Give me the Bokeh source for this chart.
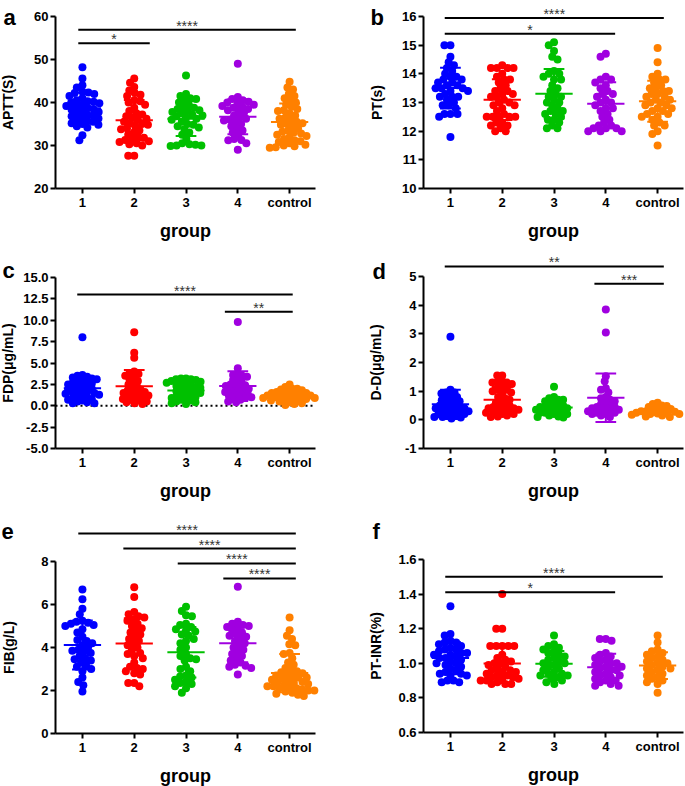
import math
import numpy as np
from bokeh.plotting import figure
from bokeh.layouts import column, row
from bokeh.models import FixedTicker, Range1d, NumeralTickFormatter
from bokeh.embed import file_html
from bokeh.resources import INLINE
from bokeh.core.properties import value

groups = ["1", "2", "3", "4", "control"]
colors = ["#0000FF", "#FF0000", "#00C000", "#A000E0", "#FF8000"]

# ---------------- data ----------------
aptt_1 = [48.2, 45.6, 44.0, 43.5, 42.5, 42.3, 42.2, 42.0, 41.5, 41.0, 40.5, 40.3, 40.2, 40.0, 39.8, 39.5, 39.2, 39.0, 38.8, 38.5,
          38.3, 38.0, 37.8, 37.5, 37.2, 37.0, 36.8, 36.5, 36.3, 36.0, 35.8, 35.5, 35.2, 35.0, 34.8, 34.5, 34.2, 32.4, 31.2]
aptt_2 = [45.6, 44.6, 43.6, 42.8, 42.2, 41.8, 41.5, 40.5, 40.3, 40.0, 39.5, 38.8, 38.0, 37.5, 37.2, 36.8, 36.5, 36.2, 36.0, 35.5,
          35.2, 35.0, 34.8, 34.5, 34.0, 33.8, 33.5, 33.0, 32.5, 32.0, 31.8, 31.5, 31.3, 31.0, 30.8, 30.5, 30.3, 30.0, 27.6, 27.6]
aptt_3 = [46.3, 42.0, 41.5, 41.0, 40.8, 40.5, 40.0, 39.5, 39.0, 38.8, 38.5, 38.2, 38.0, 37.8, 37.5, 37.2, 37.0, 36.8, 36.5, 36.2,
          36.0, 35.5, 35.0, 34.8, 34.5, 34.2, 33.8, 33.0, 32.5, 31.5, 30.5, 30.3, 30.2, 30.0, 30.0, 29.9]
aptt_4 = [49.0, 41.3, 40.8, 40.5, 40.2, 40.0, 39.8, 39.5, 39.2, 39.0, 38.8, 38.5, 38.2, 38.0, 37.5, 37.0, 36.5, 36.2, 36.0, 35.8,
          35.5, 35.0, 34.5, 34.0, 33.5, 33.0, 32.5, 31.5, 31.3, 31.2, 30.5, 29.0]
aptt_c = [44.8, 43.5, 43.0, 42.0, 41.5, 41.0, 40.5, 40.0, 39.5, 39.0, 38.5, 38.2, 38.0, 37.5, 37.0, 36.5, 36.2, 36.0, 35.5, 35.2,
          35.0, 34.8, 34.5, 34.0, 33.5, 33.2, 33.0, 32.8, 32.5, 32.2, 32.0, 31.5, 31.2, 31.0, 30.8, 30.5, 30.2, 30.0, 29.8, 29.6, 29.5]

pt_1 = [15.0, 15.0, 14.6, 14.4, 14.3, 14.2, 14.1, 14.0, 13.9, 13.9, 13.8, 13.8, 13.7, 13.7, 13.6, 13.6, 13.5, 13.5, 13.5, 13.4,
        13.4, 13.3, 13.2, 13.2, 13.2, 13.1, 13.0, 12.9, 12.9, 12.8, 12.6, 12.6, 12.6, 12.5, 11.8]
pt_2 = [14.3, 14.2, 14.2, 14.2, 14.2, 14.0, 13.9, 13.8, 13.8, 13.7, 13.6, 13.5, 13.4, 13.4, 13.3, 13.3, 13.2, 13.2, 13.1, 13.0,
        13.0, 12.9, 12.9, 12.8, 12.7, 12.6, 12.5, 12.5, 12.5, 12.5, 12.5, 12.3, 12.3, 12.2, 12.2, 12.1, 12.0, 12.0]
pt_3 = [15.1, 15.0, 14.8, 14.6, 14.5, 14.1, 14.0, 14.0, 13.9, 13.8, 13.8, 13.6, 13.5, 13.4, 13.3, 13.2, 13.2, 13.1, 13.0, 13.0,
        12.9, 12.8, 12.7, 12.7, 12.6, 12.6, 12.5, 12.4, 12.4, 12.3, 12.2, 12.1, 12.1]
pt_4 = [14.7, 14.6, 13.9, 13.8, 13.8, 13.7, 13.6, 13.5, 13.4, 13.3, 13.3, 13.2, 13.1, 13.0, 13.0, 12.9, 12.8, 12.8, 12.7, 12.6,
        12.5, 12.4, 12.3, 12.2, 12.2, 12.1, 12.1, 12.0, 12.0, 12.0, 12.1]
pt_c = [14.9, 14.4, 14.0, 13.9, 13.8, 13.8, 13.7, 13.6, 13.5, 13.5, 13.4, 13.4, 13.3, 13.3, 13.2, 13.2, 13.1, 13.1, 13.0, 13.0,
        12.9, 12.9, 12.8, 12.8, 12.7, 12.7, 12.6, 12.6, 12.5, 12.5, 12.4, 12.3, 12.2, 12.2, 12.0, 11.9, 11.5]

fdp_1 = [8.0, 3.6, 3.5, 3.4, 3.3, 3.2, 3.1, 3.0, 2.9, 2.8, 2.7, 2.6, 2.5, 2.4, 2.3, 2.2, 2.1, 2.0, 1.9, 1.8,
         1.7, 1.6, 1.5, 1.5, 1.4, 1.3, 1.2, 1.1, 1.0, 0.9, 0.8, 0.7, 0.6, 0.5, 0.4, 0.3, 0.3]
fdp_2 = [8.6, 6.2, 5.6, 4.0, 3.8, 3.7, 3.5, 3.3, 3.1, 2.9, 2.7, 2.5, 2.3, 2.1, 1.9, 1.8, 1.7, 1.6, 1.5, 1.4,
         1.3, 1.2, 1.1, 1.0, 0.9, 0.8, 0.7, 0.6, 0.5, 0.4, 0.3, 0.2]
fdp_3 = [3.2, 3.2, 3.1, 3.1, 3.0, 2.9, 2.8, 2.7, 2.6, 2.5, 2.4, 2.3, 2.2, 2.1, 2.0, 1.9, 1.8, 1.7, 1.6, 1.5,
         1.4, 1.3, 1.2, 1.1, 1.0, 0.9, 0.8, 0.7, 0.6, 0.5, 0.4, 0.3, 0.2]
fdp_4 = [9.8, 4.4, 3.8, 3.6, 3.5, 3.4, 3.2, 3.0, 2.8, 2.6, 2.5, 2.4, 2.3, 2.2, 2.1, 2.0, 1.9, 1.8, 1.7, 1.6,
         1.5, 1.4, 1.3, 1.2, 1.1, 1.0, 0.9, 0.8, 0.7, 0.5, 0.4]
fdp_c = [2.5, 2.2, 2.0, 2.0, 1.9, 1.8, 1.7, 1.6, 1.5, 1.5, 1.4, 1.3, 1.3, 1.2, 1.2, 1.1, 1.1, 1.0, 1.0, 0.9,
         0.9, 0.8, 0.8, 0.7, 0.7, 0.6, 0.5, 0.4, 0.3, 0.2, 0.1]

dd_1 = [2.9, 1.05, 0.95, 0.95, 0.92, 0.85, 0.8, 0.75, 0.7, 0.68, 0.65, 0.6, 0.55, 0.5, 0.5, 0.45, 0.45, 0.4, 0.4, 0.35,
        0.35, 0.3, 0.3, 0.25, 0.25, 0.2, 0.2, 0.15, 0.15, 0.1, 0.1, 0.08, 0.05]
dd_2 = [1.55, 1.55, 1.35, 1.3, 1.3, 1.3, 1.25, 1.1, 1.05, 1.05, 1.0, 0.95, 0.9, 0.8, 0.75, 0.7, 0.65, 0.6, 0.55, 0.5,
        0.45, 0.45, 0.4, 0.4, 0.35, 0.35, 0.3, 0.3, 0.25, 0.25, 0.2, 0.2, 0.15, 0.12, 0.1]
dd_3 = [1.15, 0.8, 0.75, 0.7, 0.7, 0.65, 0.6, 0.55, 0.5, 0.5, 0.45, 0.45, 0.4, 0.4, 0.35, 0.35, 0.3, 0.3, 0.25, 0.25,
        0.2, 0.2, 0.15, 0.12, 0.1, 0.08]
dd_4 = [3.85, 3.05, 1.52, 1.35, 1.1, 1.05, 0.95, 0.8, 0.75, 0.7, 0.65, 0.6, 0.55, 0.5, 0.45, 0.45, 0.4, 0.4, 0.35, 0.35,
        0.3, 0.3, 0.25, 0.25, 0.2, 0.2, 0.15, 0.1]
dd_c = [0.6, 0.55, 0.5, 0.48, 0.45, 0.4, 0.38, 0.35, 0.33, 0.3, 0.3, 0.28, 0.25, 0.25, 0.22, 0.2, 0.2, 0.18, 0.15, 0.12, 0.1]

fib_1 = [6.7, 6.25, 5.8, 5.55, 5.25, 5.2, 5.15, 5.1, 5.05, 5.0, 4.85, 4.7, 4.5, 4.35, 4.3, 4.2, 4.1, 4.0, 3.9, 3.85,
         3.8, 3.75, 3.6, 3.5, 3.45, 3.4, 3.3, 3.15, 3.1, 3.0, 2.9, 2.6, 2.4, 2.25, 1.95]
fib_2 = [6.8, 6.35, 5.65, 5.55, 5.45, 5.4, 5.3, 5.25, 5.1, 5.0, 4.9, 4.8, 4.7, 4.6, 4.5, 4.4, 4.3, 4.2, 4.1, 4.0,
         3.9, 3.75, 3.7, 3.6, 3.5, 3.3, 3.1, 3.05, 3.0, 2.9, 2.8, 2.75, 2.35, 2.35, 2.2]
fib_3 = [5.9, 5.7, 5.5, 5.45, 5.1, 5.05, 4.95, 4.85, 4.8, 4.75, 4.6, 4.55, 4.4, 4.3, 4.2, 4.0, 3.9, 3.7, 3.6, 3.5,
         3.45, 3.4, 3.1, 3.0, 2.9, 2.7, 2.65, 2.6, 2.5, 2.4, 2.35, 2.3, 2.2, 2.1, 1.9]
fib_4 = [6.82, 5.2, 5.1, 5.05, 5.0, 4.95, 4.9, 4.8, 4.7, 4.6, 4.55, 4.5, 4.4, 4.3, 4.2, 4.1, 4.0, 3.9, 3.8, 3.7,
         3.6, 3.5, 3.4, 3.3, 3.2, 3.15, 3.1, 3.05, 2.75]
fib_c = [5.4, 4.8, 4.55, 4.4, 4.15, 4.1, 3.75, 3.7, 3.5, 3.3, 3.2, 3.05, 2.95, 2.9, 2.85, 2.8, 2.75, 2.7, 2.65, 2.6,
         2.6, 2.55, 2.5, 2.45, 2.4, 2.4, 2.35, 2.3, 2.25, 2.2, 2.2, 2.15, 2.1, 2.1, 2.05, 2.0, 2.0, 1.95, 1.9, 1.85,
         1.8, 1.75]

inr_1 = [1.33, 1.17, 1.16, 1.13, 1.12, 1.12, 1.11, 1.10, 1.09, 1.08, 1.08, 1.07, 1.06, 1.06, 1.05, 1.05, 1.04, 1.03, 1.03, 1.02,
         1.01, 1.0, 1.0, 0.99, 0.98, 0.97, 0.96, 0.95, 0.94, 0.94, 0.93, 0.93, 0.9, 0.9, 0.89, 0.89]
inr_2 = [1.40, 1.20, 1.20, 1.10, 1.10, 1.10, 1.10, 1.10, 1.05, 1.03, 1.02, 1.01, 1.0, 1.0, 0.99, 0.98, 0.97, 0.96, 0.96, 0.95,
         0.95, 0.94, 0.93, 0.93, 0.92, 0.92, 0.91, 0.91, 0.90, 0.90, 0.89, 0.88, 0.88, 0.88]
inr_3 = [1.16, 1.11, 1.1, 1.09, 1.08, 1.07, 1.06, 1.05, 1.04, 1.03, 1.02, 1.01, 1.0, 1.0, 0.99, 0.98, 0.97, 0.96, 0.95, 0.94,
         0.94, 0.93, 0.93, 0.92, 0.91, 0.90, 0.89, 0.88]
inr_4 = [1.14, 1.14, 1.13, 1.06, 1.05, 1.04, 1.03, 1.02, 1.01, 1.0, 1.0, 0.99, 0.98, 0.98, 0.97, 0.96, 0.96, 0.95, 0.94, 0.93,
         0.93, 0.92, 0.91, 0.90, 0.90, 0.89, 0.88, 0.87, 0.87]
inr_c = [1.16, 1.12, 1.08, 1.07, 1.06, 1.05, 1.04, 1.03, 1.02, 1.01, 1.0, 1.0, 0.99, 0.98, 0.97, 0.97, 0.96, 0.95, 0.94, 0.93,
         0.92, 0.91, 0.90, 0.89, 0.88, 0.83]

# y-axis ticks
aptt_ticks = [20, 30, 40, 50, 60]
pt_ticks = [10, 11, 12, 13, 14, 15, 16]
fdp_ticks = [-5.0, -2.5, 0.0, 2.5, 5.0, 7.5, 10.0, 12.5, 15.0]
dd_ticks = [-1, 0, 1, 2, 3, 4, 5]
fib_ticks = [0, 2, 4, 6, 8]
inr_ticks = [0.6, 0.8, 1.0, 1.2, 1.4, 1.6]

# significance brackets: (from, to, level, label)
aptt_sig = [(0.92, 2.30, 53.8, "*"), (0.92, 5.12, 56.9, "****")]
pt_sig = [(0.89, 4.18, 15.4, "*"), (0.89, 5.12, 15.95, "****")]
fdp_sig = [(3.75, 5.06, 11.0, "**"), (0.90, 5.06, 13.0, "****")]
dd_sig = [(3.78, 5.12, 4.75, "***"), (0.89, 5.12, 5.35, "**")]
fib_sig = [(3.72, 5.12, 7.21, "****"), (2.84, 5.12, 7.91, "****"), (1.79, 5.12, 8.60, "****"), (0.92, 5.12, 9.30, "****")]
inr_sig = [(0.90, 4.18, 1.41, "*"), (0.90, 5.10, 1.50, "****")]

FONT = "Liberation Sans"
X0, X1 = 0.48, 5.5   # extent of the category axis


def swarm(vals, ypx, xpx, d):
    vals = np.asarray(vals, dtype=float)
    order = np.argsort(-vals, kind="stable")
    placed = []
    offs = np.zeros(len(vals))
    for i in order:
        y = vals[i] * ypx
        cands = [0.0]
        for (px, py) in placed:
            dy = abs(py - y)
            if dy < d:
                dx = math.sqrt(d * d - dy * dy)
                cands += [px + dx, px - dx]
        cands.sort(key=lambda c: (abs(c), c))
        for c in cands:
            if all((c - px) ** 2 + (y - py) ** 2 >= d * d - 1e-6 for px, py in placed):
                offs[i] = c
                placed.append((c, y))
                break
    return offs / xpx


def make_panel(letter, ylabel, data, ticks, fmt, sig, W, H, geom, lab_standoff, letter_px, zero=False, d=6.0):
    # geom: pixel positions inside this figure (axis x, axis right end x, top tick y, axis y)
    ax_px, r_px, yt_px, yb_px = geom
    xpx = (r_px - ax_px) / (X1 - X0)
    ypx = (yb_px - yt_px) / (ticks[-1] - ticks[0])
    xs0 = X0 - ax_px / xpx
    xs1 = X1 + (W - r_px) / xpx
    ye1 = ticks[-1] + yt_px / ypx
    ye0 = ticks[0] - (H - yb_px) / ypx

    p = figure(width=W, height=H, x_range=Range1d(xs0, xs1), y_range=Range1d(ye0, ye1),
               output_backend="svg", toolbar_location=None,
               min_border=0, min_border_left=0, min_border_right=0, min_border_top=0, min_border_bottom=0)
    p.outline_line_color = None
    p.grid.visible = False

    if zero:
        p.segment(x0=[X0], x1=[X1], y0=[0], y1=[0], line_color="black", line_width=2, line_dash="2 3")

    for gi, (vals, col) in enumerate(zip(data, colors)):
        xs = (gi + 1) + swarm(vals, ypx, xpx, d)
        p.scatter(xs, vals, size=8, color=col, line_color=None)
        m = float(np.mean(vals))
        s = float(np.std(vals, ddof=1))
        cx = gi + 1
        p.segment(x0=[cx - 0.36, cx - 0.2, cx - 0.2, cx], x1=[cx + 0.36, cx + 0.2, cx + 0.2, cx],
                  y0=[m, m + s, m - s, m - s], y1=[m, m + s, m - s, m + s],
                  line_color=col, line_width=2)

    sx0 = [t[0] for t in sig]
    sx1 = [t[1] for t in sig]
    sy = [t[2] for t in sig]
    st = [t[3] for t in sig]
    p.segment(x0=sx0, x1=sx1, y0=sy, y1=sy, line_color="black", line_width=2)
    p.text(x=[(a + b) / 2 for a, b in zip(sx0, sx1)], y=sy, text=st, text_align="center",
           text_baseline="middle", y_offset=-4, text_font=value(FONT), text_font_size="14px",
           text_color="#333333")

    # panel letter
    p.text(x=[xs0 + letter_px[0] / xpx], y=[ye1 - letter_px[1] / ypx], text=[letter],
           text_align="left", text_baseline="alphabetic", text_font=value(FONT),
           text_font_style="bold", text_font_size="22px", text_color="black")

    # axes (drawn at fixed locations inside the frame)
    for ax in (p.xaxis[0], p.yaxis[0]):
        ax.axis_line_width = 2
        ax.major_tick_line_width = 2
        ax.major_tick_out = 5
        ax.major_tick_in = 0
        ax.minor_tick_line_color = None
        ax.major_label_text_font = FONT
        ax.major_label_text_font_style = "bold"
        ax.major_label_text_font_size = "13px"
        ax.major_label_text_color = "black"
        ax.axis_label_text_font = FONT
        ax.axis_label_text_font_style = "bold"
        ax.axis_label_text_color = "black"
    ya = p.yaxis[0]
    ya.fixed_location = X0
    ya.ticker = FixedTicker(ticks=ticks)
    ya.formatter = NumeralTickFormatter(format=fmt)
    ya.bounds = (ticks[0], ticks[-1])
    ya.axis_label = ylabel
    ya.axis_label_text_font_size = "14px"
    ya.major_label_standoff = 2
    ya.axis_label_standoff = lab_standoff
    xa = p.xaxis[0]
    xa.fixed_location = ticks[0]
    xa.bounds = (X0, X1)
    xa.ticker = FixedTicker(ticks=[1, 2, 3, 4, 5])
    xa.major_label_overrides = {i + 1: g for i, g in enumerate(groups)}
    xa.axis_label = "group"
    xa.axis_label_text_font_size = "18px"
    xa.major_label_standoff = 1
    xa.axis_label_standoff = 8
    return p


LW, RW = 340, 345
LG = (55, 315)
RG = (83, 343)
pa = make_panel("a", "APTT(S)", [aptt_1, aptt_2, aptt_3, aptt_4, aptt_c], aptt_ticks, "0", aptt_sig,
                LW, 254, LG + (16, 188), 15, (3, 17))
pb = make_panel("b", "PT(s)", [pt_1, pt_2, pt_3, pt_4, pt_c], pt_ticks, "0", pt_sig,
                RW, 254, RG + (16, 188), 14, (30, 17))
pc = make_panel("c", "FDP(\u03bcg/mL)", [fdp_1, fdp_2, fdp_3, fdp_4, fdp_c], fdp_ticks, "0.0", fdp_sig,
                LW, 261, LG + (23, 194), 4, (2, 16), zero=True, d=5.0)
pd = make_panel("d", "D-D(\u03bcg/mL)", [dd_1, dd_2, dd_3, dd_4, dd_c], dd_ticks, "0", dd_sig,
                RW, 261, RG + (22, 194), 18, (32, 17), d=5.0)
pe = make_panel("e", "FIB(g/L)", [fib_1, fib_2, fib_3, fib_4, fib_c], fib_ticks, "0", fib_sig,
                LW, 271, LG + (46, 218), 21, (1, 16))
pf = make_panel("f", "PT-INR(%)", [inr_1, inr_2, inr_3, inr_4, inr_c], inr_ticks, "0.0", inr_sig,
                RW, 271, RG + (44, 217), 11, (32, 16))

layout = column(row(pa, pb), row(pc, pd), row(pe, pf))
open("out.html", "w").write(file_html(layout, INLINE))
